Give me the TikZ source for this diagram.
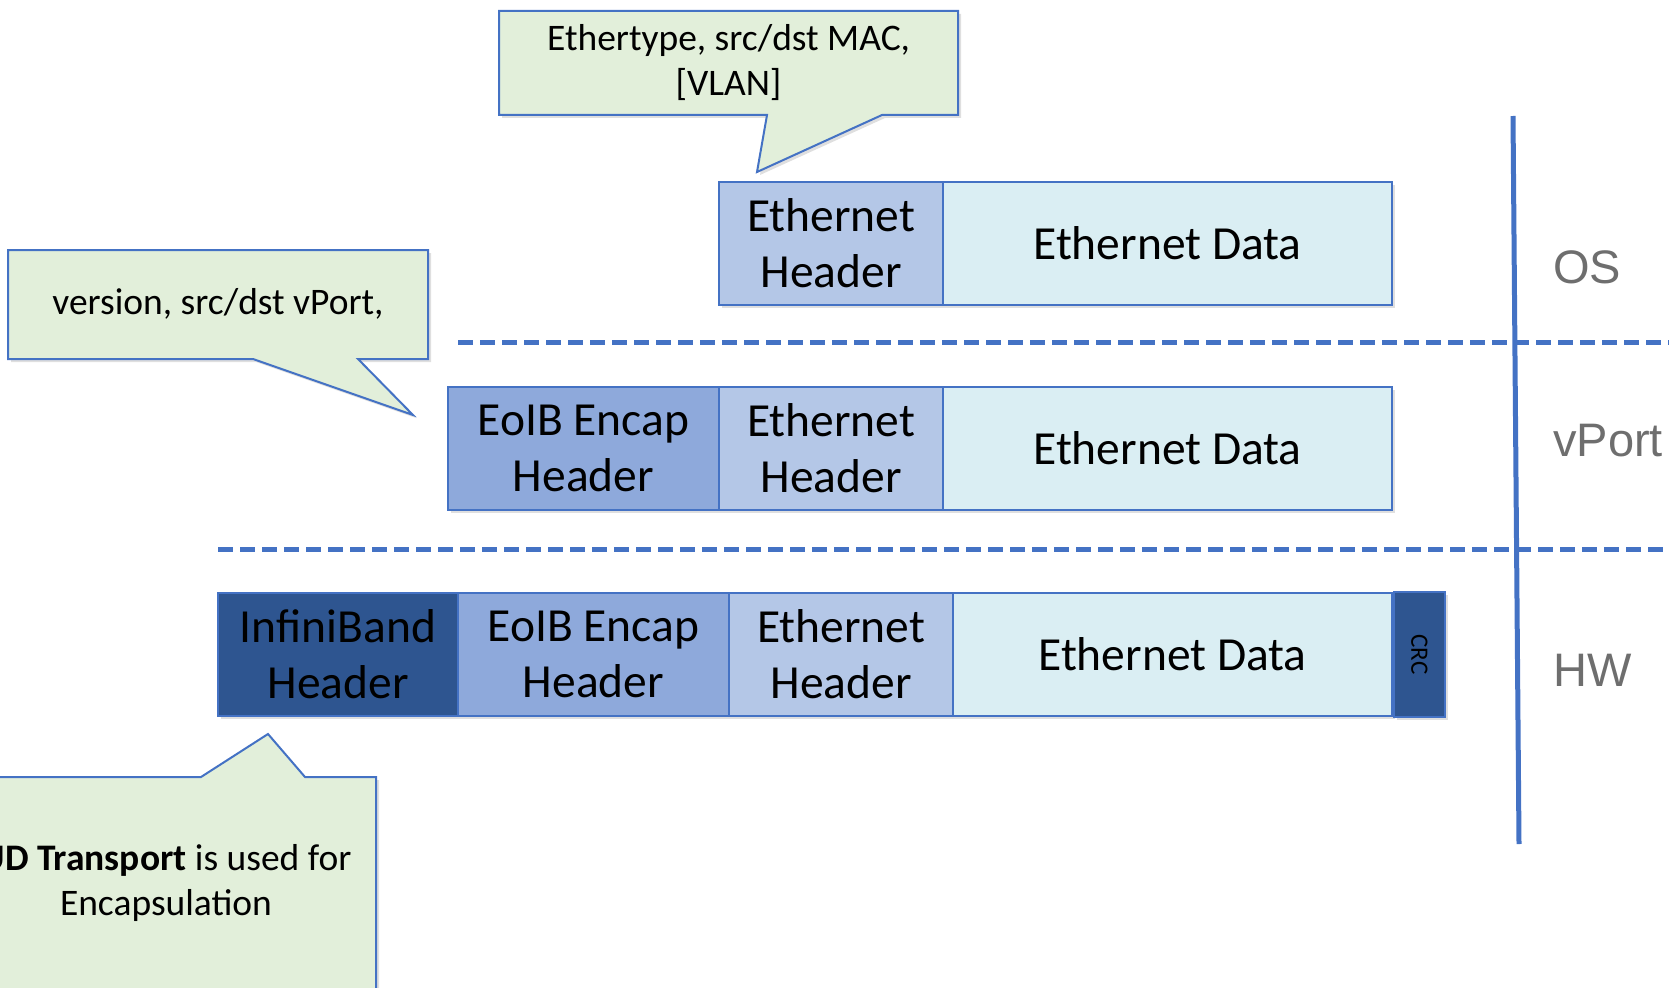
\documentclass[tikz,border=0pt]{standalone}
\usepackage{fontspec}
\setmainfont{Carlito}
\newfontfamily\layerfont{Liberation Sans}
\usetikzlibrary{positioning,shadows}

\definecolor{ibblue}{HTML}{2E5590}
\definecolor{encapblue}{HTML}{8EA9DB}
\definecolor{hdrblue}{HTML}{B4C7E7}
\definecolor{datablue}{HTML}{DAEEF3}
\definecolor{notegreen}{HTML}{E2EFDA}
\definecolor{edgeblue}{HTML}{4472C4}
\definecolor{layergray}{HTML}{6E6E6E}

\tikzset{
  field/.style={draw=edgeblue, line width=2pt, inner sep=0pt, outer sep=0pt,
    minimum height=123pt, align=center, font=\fontsize{47.5}{56}\selectfont,
    drop shadow={shadow xshift=3pt, shadow yshift=-3pt, opacity=0.25}},
  note/.style={draw=edgeblue, line width=2pt, fill=notegreen, line join=miter,
    drop shadow={shadow xshift=3pt, shadow yshift=-3pt, opacity=0.25}},
  notetext/.style={align=center, font=\fontsize{37.5}{45}\selectfont},
  layer/.style={text=layergray, inner sep=0pt, font=\layerfont\fontsize{47}{56}\selectfont},
  sep/.style={edgeblue, line width=5pt, dash pattern=on 15pt off 7pt},
  rule/.style={edgeblue, line width=5pt},
}

\begin{document}
\begin{tikzpicture}[x=1pt, y=-1pt]
  \useasboundingbox (0,0) rectangle (1669,987);
  \clip (0,0) rectangle (1669,987);

  % layer separators
  \draw[sep] (458,342) -- (1669,342);
  \draw[sep] (218,549) -- (1669,549);
  \draw[rule] (1513,116) -- (1519,844);

  % OS frame
  \node[field, fill=hdrblue, minimum width=224pt, anchor=north west] (eh1) at (719,182) {Ethernet\\Header};
  \node[field, fill=datablue, minimum width=449pt, right=0pt of eh1] (ed1) {Ethernet Data};

  % vPort frame
  \node[field, fill=encapblue, minimum width=271pt, anchor=north west] (enc2) at (448,387) {EoIB Encap\\Header};
  \node[field, fill=hdrblue, minimum width=224pt, right=0pt of enc2] (eh2) {Ethernet\\Header};
  \node[field, fill=datablue, minimum width=449pt, right=0pt of eh2] (ed2) {Ethernet Data};

  % HW frame
  \node[field, fill=ibblue, minimum width=240pt, anchor=north west] (ib3) at (218,593) {InfiniBand\\Header};
  \node[field, fill=encapblue, minimum width=271pt, right=0pt of ib3] (enc3) {EoIB Encap\\Header};
  \node[field, fill=hdrblue, minimum width=224pt, right=0pt of enc3] (eh3) {Ethernet\\Header};
  \node[field, fill=datablue, minimum width=439pt, right=0pt of eh3] (ed3) {Ethernet Data};
  \node[field, fill=ibblue, minimum width=51pt, minimum height=125pt, right=2pt of ed3,
    font=\fontsize{25}{30}\selectfont] (crc3) {\rotatebox{-90}{CRC}};

  % layer names
  \node[layer, anchor=base west] (os) at (1553,283) {OS};
  \node[layer, anchor=base west] (vport) at (1553,456) {vPort};
  \node[layer, anchor=base west] (hw) at (1553,686) {HW};

  % callouts
  \draw[note] (499,11) -- (958,11) -- (958,115) -- (882,115) -- (757,172) -- (767,115) -- (499,115) -- cycle;
  \node[notetext] (nmac) at (728.5,63) {Ethertype, src/dst MAC,\\{[VLAN]}};

  \draw[note] (8,250) -- (428,250) -- (428,359) -- (358,359) -- (413,415) -- (253,359) -- (8,359) -- cycle;
  \node[notetext] (nport) at (218,304) {version, src/dst vPort,};

  \draw[note] (-44,777) -- (201,777) -- (268,734) -- (305,777) -- (376,777) -- (376,989) -- (-44,989) -- cycle;
  \node[notetext] (nud) at (166,883) {\textbf{UD Transport} is used for\\Encapsulation};
\end{tikzpicture}
\end{document}
